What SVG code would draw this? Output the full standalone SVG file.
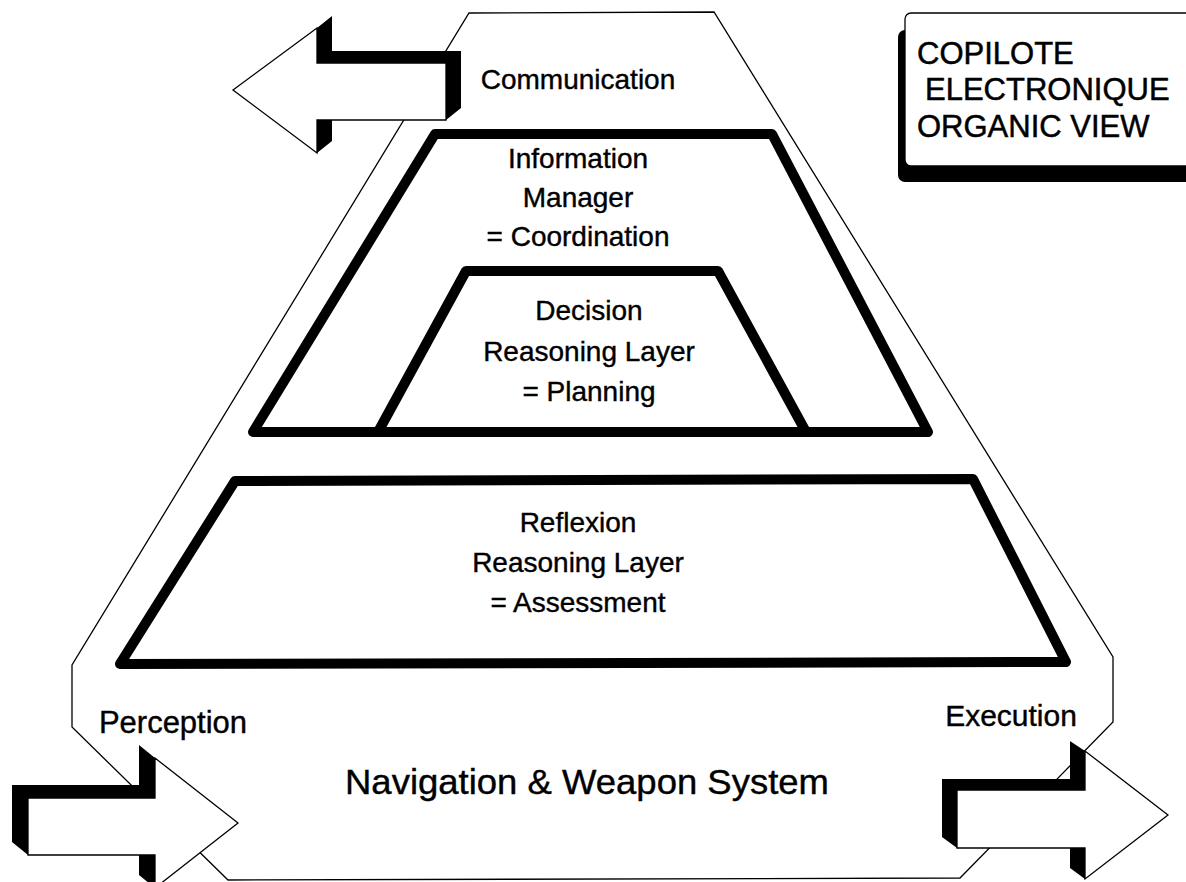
<svg xmlns="http://www.w3.org/2000/svg" width="1186" height="882" viewBox="0 0 1186 882">
<style>
.thin{fill:#fff;stroke:#000;stroke-width:1.3;stroke-linejoin:miter}
.trap{fill:none;stroke:#000;stroke-width:10;stroke-linejoin:round}
.sh{fill:#000;stroke:none}
.face{fill:#fff;stroke:#000;stroke-width:1.3;stroke-linejoin:miter}
.t{font-family:"Liberation Sans",Arial,sans-serif;font-size:28px;fill:#000;stroke:#000;stroke-width:0.4;text-anchor:middle}
.tb{font-family:"Liberation Sans",Arial,sans-serif;font-size:31px;fill:#000;stroke:#000;stroke-width:0.5}
</style>
<rect width="1186" height="882" fill="#fff"/>
<g id="outer">
<polygon class="thin" points="469,13 714,12 1113,657 1113,722 960,878 228,880 72,727 72,665"/>
</g>
<g id="title">
<rect class="sh" x="898" y="30" width="300" height="152" rx="7"/>
<rect class="face" x="905" y="13" width="300" height="153" rx="6"/>
<text class="tb" x="917" y="64">COPILOTE</text>
<text class="tb" x="925" y="100">ELECTRONIQUE</text>
<text class="tb" x="917" y="137">ORGANIC VIEW</text>
</g>
<g id="information-manager">
<polygon class="trap" points="435,134 772,134 928,432 253,432"/>
<text class="t" x="578" y="168">Information</text>
<text class="t" x="578" y="207">Manager</text>
<text class="t" x="578" y="246">= Coordination</text>
</g>
<g id="decision">
<polygon class="trap" points="466,271 718,271 806,432 378,432"/>
<text class="t" x="589" y="320">Decision</text>
<text class="t" x="589" y="361">Reasoning Layer</text>
<text class="t" x="589" y="401">= Planning</text>
</g>
<g id="reflexion">
<polygon class="trap" points="235,481 973,479 1066,662 120,664"/>
<text class="t" x="578" y="532">Reflexion</text>
<text class="t" x="578" y="572">Reasoning Layer</text>
<text class="t" x="578" y="612">= Assessment</text>
</g>
<g id="navigation">
<text class="t" x="587" y="794" style="font-size:35px" textLength="484" lengthAdjust="spacingAndGlyphs">Navigation &amp; Weapon System</text>
</g>
<g id="communication">
<polygon class="sh" points="317,28 332,16 332,51 461,51 461,108 446,120 446,63 317,63"/>
<polygon class="sh" points="317,120 332,120 332,141 317,153"/>
<polygon class="face" points="233,90 317,28 317,63 446,63 446,120 317,120 317,153"/>
<text class="t" x="578" y="89">Communication</text>
</g>
<g id="perception">
<polygon class="sh" points="139,745 155,758 155,798 28,798 28,855 12,842 12,785 139,785"/>
<polygon class="sh" points="139,855 155,855 155,888 139,875"/>
<polygon class="face" points="238,823 155,758 155,798 28,798 28,855 155,855 155,888"/>
<text class="t" x="173" y="733" style="font-size:31px">Perception</text>
</g>
<g id="execution">
<polygon class="sh" points="1070,741 1085,751 1085,790 957,790 957,848 942,837 942,779 1070,779"/>
<polygon class="sh" points="1070,848 1085,848 1085,879 1070,868"/>
<polygon class="face" points="1168,815 1085,751 1085,790 957,790 957,848 1085,848 1085,879"/>
<text class="t" x="1011" y="726" style="font-size:30px">Execution</text>
</g>
<g id="connectors"></g>
</svg>
